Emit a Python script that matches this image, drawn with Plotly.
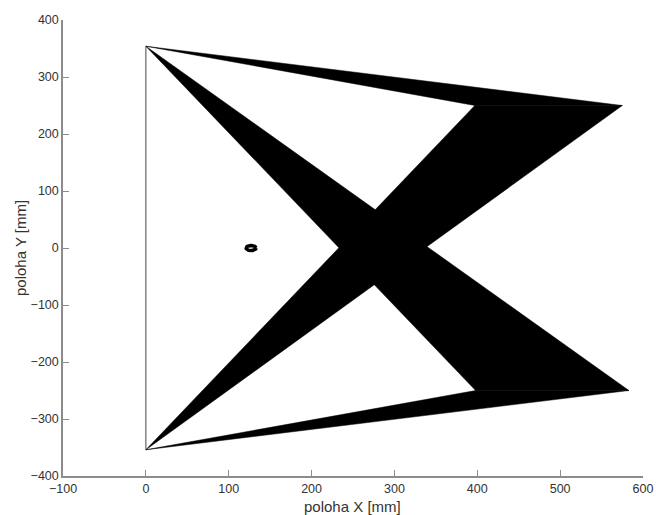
import numpy as np
import plotly.graph_objects as go

# Anchor points (cable attachment) on the left
anchor_x = [0, 0]
anchor_y = [354, -354]

# Trajectory segment end points (upper and lower)
upper_seg_x = [397, 575]
upper_seg_y = [250, 250]
lower_seg_x = [398, 583]
lower_seg_y = [-250, -250]

# Small ellipse marker
ell_cx, ell_cy = 127, 0
ell_rx, ell_ry = 6.0, 4.5

x_ticks = [-100, 0, 100, 200, 300, 400, 500, 600]
y_ticks = [-400, -300, -200, -100, 0, 100, 200, 300, 400]

FONT = "Liberation Sans, Arial, Helvetica"

fig = go.Figure()

# Vertical line between anchors
fig.add_trace(go.Scatter(x=anchor_x, y=anchor_y, mode="lines",
                         line=dict(color="#666666", width=1.2), hoverinfo="skip"))

# Filled triangles: each anchor to each segment
for ax, ay in zip(anchor_x, anchor_y):
    for sx, sy in ((upper_seg_x, upper_seg_y), (lower_seg_x, lower_seg_y)):
        fig.add_trace(go.Scatter(
            x=[ax, sx[0], sx[1], ax], y=[ay, sy[0], sy[1], ay],
            mode="lines", fill="toself", fillcolor="black",
            line=dict(color="black", width=0.5), hoverinfo="skip"))

# Ellipse
t = np.linspace(0, 2 * np.pi, 60)
fig.add_trace(go.Scatter(x=ell_cx + ell_rx * np.cos(t), y=ell_cy + ell_ry * np.sin(t),
                         mode="lines", line=dict(color="black", width=3.5), hoverinfo="skip"))

axis_common = dict(
    showline=True, linecolor="#8c8c8c", linewidth=1.5,
    ticks="inside", ticklen=6, tickcolor="#8c8c8c", tickwidth=1,
    showgrid=False, zeroline=False, mirror=False, automargin=False,
    tickfont=dict(family=FONT, size=12.5, color="#333333"),
)

fig.update_layout(
    width=656, height=515,
    margin=dict(l=63, r=13, t=20, b=39),
    paper_bgcolor="white", plot_bgcolor="white",
    showlegend=False,
    xaxis=dict(range=[-100, 600], tickvals=x_ticks, **axis_common),
    yaxis=dict(range=[-400, 400], tickvals=y_ticks, **axis_common),
    annotations=[
        dict(text="poloha X [mm]", xref="paper", yref="paper",
             x=(352 - 63) / 580, y=0, yshift=-30, xanchor="center", yanchor="middle",
             showarrow=False, font=dict(family=FONT, size=15, color="#333333")),
        dict(text="poloha Y [mm]", xref="paper", yref="paper",
             x=0, y=0.5, xshift=-43, xanchor="center", yanchor="middle", textangle=-90,
             showarrow=False, font=dict(family=FONT, size=15, color="#333333")),
    ],
)

fig.write_html("out.html")
